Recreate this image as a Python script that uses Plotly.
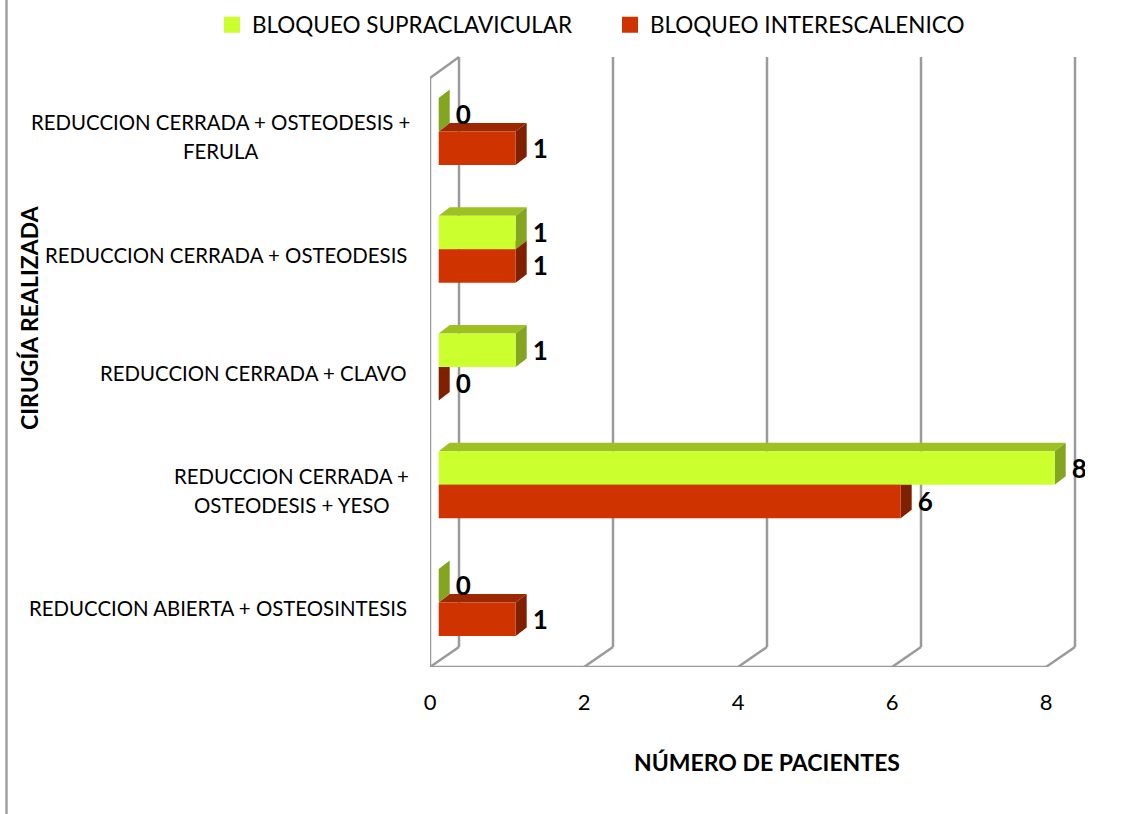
import plotly.graph_objects as go

categories = [["REDUCCION ABIERTA + OSTEOSINTESIS"], ["REDUCCION CERRADA +", "OSTEODESIS + YESO"],
              ["REDUCCION CERRADA + CLAVO"], ["REDUCCION CERRADA + OSTEODESIS"],
              ["REDUCCION CERRADA + OSTEODESIS +", "FERULA"]]
cat_pos = [0, 1, 2, 3, 4]
supraclavicular = [0, 8, 1, 1, 0]
interescalenico = [1, 6, 0, 1, 1]
x_ticks = [0, 2, 4, 6, 8]
SUPRA, INTER = "BLOQUEO SUPRACLAVICULAR", "BLOQUEO INTERESCALENICO"

FONT = "Lato"
W, H = 1126, 814
L, R, T, B = 430, 1085, 50, 667        # plot area in page pixels
PX_X, PX_Y = 77.0, 117.8               # pixels per unit
xr = [0, (R - L) / PX_X]
yr = [-0.5, -0.5 + (B - T) / PX_Y]
# shift of the bars and of their faces inside the 3-D box
bar_dx, bar_dy = 8.7 / PX_X, 5.5 / PX_Y
box_dx, box_dy = 29 / PX_X, 20 / PX_Y
face_dx, face_dy = 11 / PX_X, 8.5 / PX_Y
BW = 33.5 / PX_Y
GRID = "#9a9a9a"
COL = {"s": ("#CCFF2E", "#9DC022", "#84A51F"), "i": ("#CF3400", "#9C2800", "#7F2000")}
LABEL_RIGHT = 409                      # right edge of the category labels, px
LABEL_CENTER = {1: 291.5, 4: 220}      # centre of the two-line labels, px
LINE_GAP = 29


def faces(vals, low, up):
    top_x, top_y, side_x, side_y = [], [], [], []
    for v, c in zip(vals, cat_pos):
        y0 = c + low
        y1 = c + up
        top_x += [0, v, v + face_dx, face_dx, 0, None]
        top_y += [y1, y1, y1 + face_dy, y1 + face_dy, y1, None]
        side_x += [v, v + face_dx, v + face_dx, v, v, None]
        side_y += [y0, y0 + face_dy, y1 + face_dy, y1, y0, None]
    return top_x, top_y, side_x, side_y


fig = go.Figure()


def poly(x, y, color):
    fig.add_trace(go.Scatter(x=x, y=y, fill="toself", fillcolor=color, mode="lines", line=dict(width=0),
                             hoverinfo="skip", showlegend=False, xaxis="x2", yaxis="y2"))


for vals, low, up, key in [(interescalenico, -BW, 0, "i"), (supraclavicular, 0, BW, "s")]:
    tx, ty, sx, sy = faces(vals, low, up)
    poly(tx, ty, COL[key][1])
    poly(sx, sy, COL[key][2])

fig.add_trace(go.Bar(y=cat_pos, x=supraclavicular, orientation="h", name=SUPRA, width=BW, offset=0, showlegend=False,
                     marker=dict(color=COL["s"][0], line=dict(width=0)), xaxis="x3", yaxis="y3"))
fig.add_trace(go.Bar(y=cat_pos, x=interescalenico, orientation="h", name=INTER, width=BW, offset=-BW, showlegend=False,
                     marker=dict(color=COL["i"][0], line=dict(width=0)), xaxis="x3", yaxis="y3"))
# legend keys: same colour outline makes the swatch as large as in the reference
for name, key in [(SUPRA, "s"), (INTER, "i")]:
    fig.add_trace(go.Bar(y=[None], x=[None], orientation="h", name=name,
                         marker=dict(color=COL[key][0], line=dict(width=4, color=COL[key][0])),
                         xaxis="x3", yaxis="y3"))

lab = 17 / PX_X
lab_dy = -3 / PX_Y
for vals, off in [(supraclavicular, BW / 2), (interescalenico, -BW / 2)]:
    fig.add_trace(go.Scatter(x=[v + lab for v in vals], y=[c + off + lab_dy for c in cat_pos], mode="text",
                             text=[str(v) for v in vals], textposition="middle right",
                             textfont=dict(family=FONT, size=26, color="black", weight="bold"),
                             hoverinfo="skip", showlegend=False, xaxis="x3", yaxis="y3"))

# 3-D box
line = dict(color=GRID, width=2.5)
shapes = []
top = yr[0] + (B - 78) / PX_Y
shapes.append(dict(type="line", xref="x", yref="y", x0=0, x1=xr[0] + 8, y0=yr[0], y1=yr[0], line=line))
shapes.append(dict(type="line", xref="x", yref="y", x0=0, x1=0, y0=yr[0], y1=top, line=line))
shapes.append(dict(type="line", xref="x", yref="y", x0=0, x1=box_dx, y0=top, y1=top + box_dy + 1 / PX_Y, line=line))
for t in x_ticks:
    shapes.append(dict(type="line", xref="x", yref="y", x0=t, x1=t + box_dx, y0=yr[0], y1=yr[0] + box_dy, line=line))
    shapes.append(dict(type="line", xref="x", yref="y", x0=t + box_dx, x1=t + box_dx, y0=yr[0] + box_dy,
                       y1=top + box_dy + 1 / PX_Y, line=line))
pw = R - L
shapes.append(dict(type="line", xref="paper", yref="paper", x0=(6.5 - L) / pw, x1=(6.5 - L) / pw,
                   y0=-(H + 5 - B) / (B - T), y1=1 + (T + 5) / (B - T), line=dict(color="#a0a0a0", width=2.5)))
for s in shapes:
    s["layer"] = "below"

label_font = dict(family=FONT, size=20.4, color="black")
ann = []
for i, (lines, c) in enumerate(zip(categories, cat_pos)):
    if len(lines) == 1:
        ann.append(dict(xref="x", yref="y", x=0, y=c, text=lines[0], xanchor="right", yanchor="middle",
                        xshift=LABEL_RIGHT - L, showarrow=False, font=label_font))
    else:
        for k, t in enumerate(lines):
            ann.append(dict(xref="x", yref="y", x=0, y=c, text=t, xanchor="center", yanchor="middle",
                            xshift=LABEL_CENTER[i] - L, yshift=LINE_GAP * (0.5 - k), showarrow=False, font=label_font))
ann.append(dict(xref="paper", yref="paper", x=(767 - L) / pw, y=-(762 - B) / (B - T), text="<b>NÚMERO DE PACIENTES</b>",
                showarrow=False, xanchor="center", yanchor="middle", font=dict(family=FONT, size=23, color="black")))
ann.append(dict(xref="paper", yref="paper", x=(29 - L) / pw, y=(B - 318) / (B - T), text="<b>CIRUGÍA REALIZADA</b>",
                textangle=-90, showarrow=False, xanchor="center", yanchor="middle",
                font=dict(family=FONT, size=23, color="black")))

hidden = dict(visible=False, fixedrange=True)
fig.update_layout(
    width=W, height=H, autosize=False, margin=dict(l=L, r=W - R, t=T, b=H - B, pad=0, autoexpand=False),
    paper_bgcolor="white", plot_bgcolor="white", barmode="overlay", shapes=shapes, annotations=ann,
    font=dict(family=FONT, color="black"),
    xaxis=dict(range=xr, tickvals=x_ticks, showgrid=False, zeroline=False, showline=False, ticks="",
               ticklabelstandoff=20, tickfont=dict(family=FONT, size=22), fixedrange=True),
    yaxis=dict(range=yr, showticklabels=False, showgrid=False, zeroline=False, showline=False, ticks="", fixedrange=True),
    xaxis2=dict(range=[xr[0] - bar_dx, xr[1] - bar_dx], overlaying="x", **hidden),
    yaxis2=dict(range=[yr[0] - bar_dy, yr[1] - bar_dy], overlaying="y", **hidden),
    xaxis3=dict(range=[xr[0] - bar_dx, xr[1] - bar_dx], overlaying="x", **hidden),
    yaxis3=dict(range=[yr[0] - bar_dy, yr[1] - bar_dy], overlaying="y", **hidden),
    legend=dict(orientation="h", x=(212 - L) / pw, xanchor="left", y=1 + (T - 25) / (B - T), yanchor="middle",
                entrywidth=353, entrywidthmode="pixels",
                font=dict(family=FONT, size=22.5), bgcolor="rgba(0,0,0,0)", itemclick=False, itemdoubleclick=False),
)
fig.write_html("out.html", post_script="document.body.style.margin='0';document.documentElement.style.overflow='hidden';",
               config=dict(displayModeBar=False))
